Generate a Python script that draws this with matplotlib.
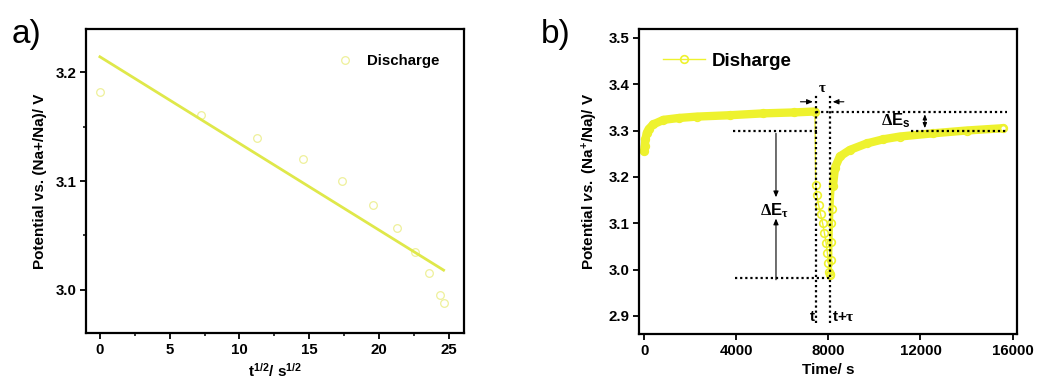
import numpy as np
import matplotlib
matplotlib.use("Agg")
import matplotlib.pyplot as plt
from matplotlib.ticker import MultipleLocator

plt.rcParams['font.family'] = ['Liberation Sans', 'DejaVu Sans']
plt.rcParams['font.weight'] = 'bold'
plt.rcParams['mathtext.fontset'] = 'custom'
plt.rcParams['mathtext.rm'] = 'Liberation Sans:bold'
plt.rcParams['mathtext.bf'] = 'Liberation Sans:bold'
plt.rcParams['mathtext.it'] = 'Liberation Sans:italic:bold'
plt.rcParams['mathtext.sf'] = 'Liberation Serif'

# pulse data (panel a): sqrt of time into the pulse vs potential
pulse_sqrt_t = [0.0, 7.24, 11.25, 14.54, 17.36, 19.6, 21.33, 22.59, 23.57, 24.4, 24.64]
pulse_E = [3.182, 3.161, 3.140, 3.120, 3.100, 3.078, 3.057, 3.035, 3.015, 2.995, 2.988]

# panel b: rest before pulse, pulse, relaxation after
rest1_t = [0, 30, 60, 117, 200, 390, 840, 1500, 2290, 3730, 5180, 6500, 7420]
rest1_E = [3.255, 3.266, 3.281, 3.295, 3.303, 3.313, 3.323, 3.327, 3.330, 3.333, 3.337, 3.339, 3.341]
pulse_start = 7449
relax_t = [8080, 8095, 8110, 8130, 8150, 8200, 8290, 8500, 8930, 9660, 10380, 11100, 12550, 14000, 15590]
relax_E = [2.990, 3.020, 3.060, 3.100, 3.130, 3.180, 3.220, 3.244, 3.258, 3.272, 3.281, 3.287, 3.294, 3.300, 3.305]

E_rest_before = 3.341
E_after_ir = 3.300
E_pulse_end = 2.982
E_rest_after = 3.299
t_pulse_end = 8069

line_a = '#dfe84a'
mark_a = '#eef09a'
band_b = '#eef22e'

fig = plt.figure(figsize=(10.37, 3.92), dpi=100)
ax1 = fig.add_axes([0.0829, 0.1505, 0.3645, 0.7755])
ax2 = fig.add_axes([0.6162, 0.148, 0.3645, 0.778])

for ax in (ax1, ax2):
    for s in ax.spines.values():
        s.set_linewidth(1.6)
    ax.tick_params(which='major', direction='out', length=4, width=1.3, labelsize=10.8, pad=3)
    ax.tick_params(which='minor', direction='out', length=2.5, width=1.1)
    ax.tick_params(top=False, right=False)

# ---- panel a ----
xa = np.array(pulse_sqrt_t)
ya = np.array(pulse_E)
k, b = np.polyfit(xa, ya, 1)
xl = np.array([xa[0], xa[-1]])
ax1.plot(xa, ya, 'o', ls='none', mfc='none', mec=mark_a, ms=5.5, mew=0.9, label='Discharge')
ax1.plot(xl, k * xl + b, '-', color=line_a, lw=2)
ax1.set_xlim(-1.0, 26.1)
ax1.set_ylim(2.96, 3.24)
ax1.xaxis.set_major_locator(MultipleLocator(5))
ax1.xaxis.set_minor_locator(MultipleLocator(2.5))
ax1.yaxis.set_major_locator(MultipleLocator(0.1))
ax1.yaxis.set_minor_locator(MultipleLocator(0.05))
ax1.set_xlabel(r'$\mathregular{t^{1/2}/\ s^{1/2}}$', fontsize=11, fontweight='bold', labelpad=4)
ax1.set_ylabel('Potential vs. (Na+/Na)/ V', fontsize=11, fontweight='bold', labelpad=6)
ax1.legend(loc='center left', bbox_to_anchor=(0.625, 0.895), frameon=False, handlelength=1.2,
           handletextpad=0.9, prop={'size': 10.8, 'weight': 'bold'})
fig.text(0.011, 0.89, 'a)', fontsize=24, fontweight='normal')

# ---- panel b ----
pulse_t = pulse_start + xa ** 2
t_all = np.concatenate([rest1_t, pulse_t, relax_t])
E_all = np.concatenate([rest1_E, ya, relax_E])
ax2.plot(rest1_t, rest1_E, '-', color=band_b, lw=6, solid_capstyle='round')
ax2.plot(relax_t[5:], relax_E[5:], '-', color=band_b, lw=6, solid_capstyle='round')
ax2.plot(relax_t[:6], relax_E[:6], '-', color=band_b, lw=2.5)
ax2.plot(t_all, E_all, '-o', color=band_b, lw=1, mfc='none', mec=band_b, ms=5.5, mew=1.2,
         label='Disharge')
ax2.plot(relax_t[-1], relax_E[-1], 'o', mfc='white', mec=band_b, ms=4, mew=1)
ax2.set_xlim(-220, 16190)
ax2.set_ylim(2.861, 3.519)
ax2.xaxis.set_major_locator(MultipleLocator(4000))
ax2.yaxis.set_major_locator(MultipleLocator(0.1))
ax2.set_xlabel('Time/ s', fontsize=11, fontweight='bold', labelpad=4)
ax2.set_ylabel(r'Potential $\mathit{vs.}$ (Na$^{+}$/Na)/ V', fontsize=11, fontweight='bold', labelpad=6)
ax2.legend(loc='center left', bbox_to_anchor=(0.02, 0.895), frameon=False, handlelength=2.2,
           handletextpad=0.4, prop={'size': 13.5, 'weight': 'bold'})
fig.text(0.522, 0.89, 'b)', fontsize=24, fontweight='normal')

dot = dict(color='black', ls=(0, (1, 1.3)), lw=1.6)
ax2.plot([pulse_start, 15750], [E_rest_before] * 2, **dot)
ax2.plot([3875, pulse_start + 60], [E_after_ir] * 2, **dot)
ax2.plot([11610, 15730], [E_rest_after] * 2, **dot)
ax2.plot([3950, t_pulse_end], [E_pulse_end] * 2, **dot)
ax2.plot([pulse_start] * 2, [2.885, 3.377], **dot)
ax2.plot([t_pulse_end] * 2, [2.885, 3.377], **dot)

arr = dict(arrowstyle='-|>,head_length=0.35,head_width=0.15', color='black', lw=0.8)
ax2.annotate('', xy=(pulse_start, 3.362), xytext=(6668, 3.362), arrowprops=arr)
ax2.annotate('', xy=(t_pulse_end, 3.362), xytext=(8794, 3.362), arrowprops=arr)
ax2.annotate('', xy=(5727, 3.150), xytext=(5727, E_after_ir), arrowprops=arr)
ax2.annotate('', xy=(5727, 3.116), xytext=(5727, 2.972), arrowprops=arr)
ax2.annotate('', xy=(12190, E_rest_after), xytext=(12190, E_rest_before),
             arrowprops=dict(arrowstyle='<|-|>,head_length=0.3,head_width=0.12', color='black', lw=0.8))

ax2.text((pulse_start + t_pulse_end) / 2, 3.392, r'$\mathsf{\tau}$', fontsize=10.5, ha='center', va='center')
ax2.text(5650, 3.127, r'$\mathsf{\Delta}\mathbf{E}_{\mathsf{\tau}}$', fontsize=12, ha='center', va='center')
ax2.text(10950, 3.321, r'$\mathsf{\Delta}\mathbf{E}_{\mathbf{s}}$', fontsize=12, ha='center', va='center')
ax2.text(7290, 2.897, 't', fontsize=11, ha='center', va='center')
ax2.text(8650, 2.897, r't+$\mathsf{\tau}$', fontsize=11, ha='center', va='center')

fig.savefig('out.png', dpi=100)
